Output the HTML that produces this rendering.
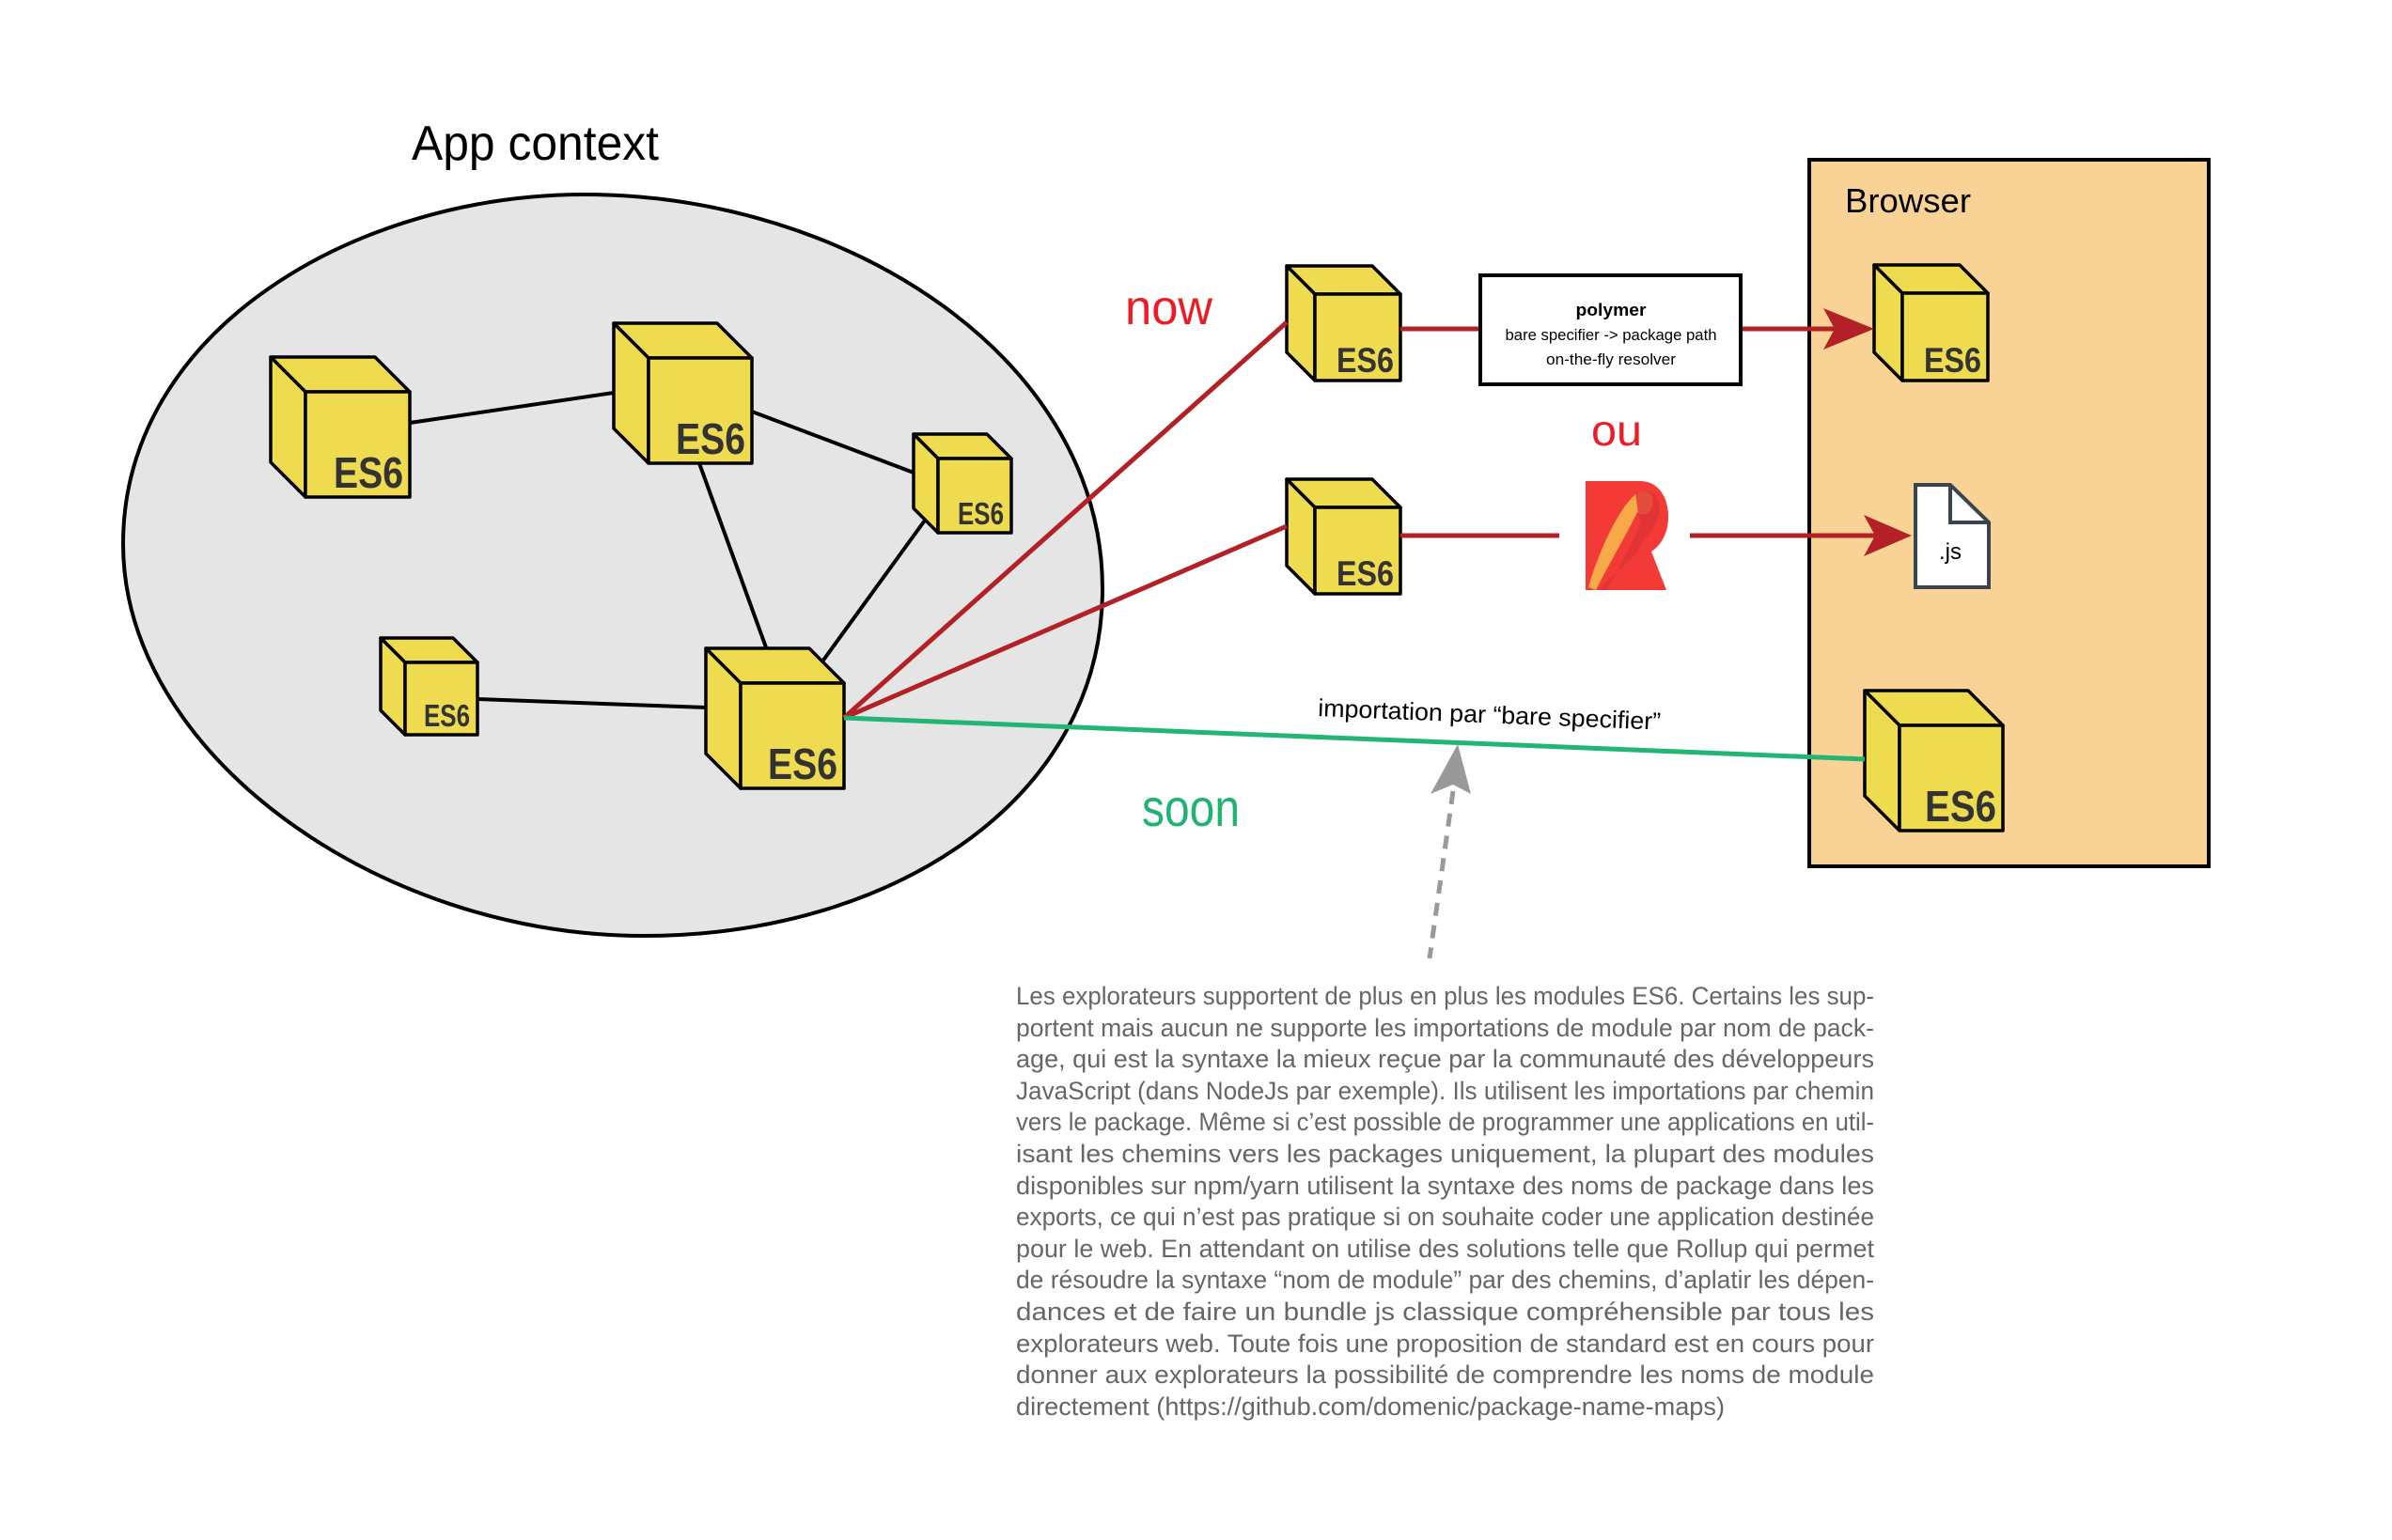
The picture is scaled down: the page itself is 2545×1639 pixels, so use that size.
<!DOCTYPE html>
<html><head><meta charset="utf-8"><style>
html,body{margin:0;padding:0;background:#fff;}
svg{display:block;}
text{font-family:"Liberation Sans",sans-serif;}
</style></head><body>
<svg width="2545" height="1639" viewBox="0 0 2545 1639" xmlns="http://www.w3.org/2000/svg">
<rect width="2545" height="1639" fill="#fff"/>
<text x="438" y="170" font-size="52" textLength="263" lengthAdjust="spacingAndGlyphs" fill="#000">App context</text>
<path d="M131,579 C131,350 380,207 622,207 C900,207 1173,380 1173,627 C1173,850 950,996 685,996 C400,996 131,800 131,579 Z" fill="#e5e5e5" stroke="#000" stroke-width="4"/>
<g stroke="#000" stroke-width="4">
<line x1="436" y1="450" x2="653" y2="418"/>
<line x1="800" y1="438" x2="972" y2="503"/>
<line x1="744" y1="493" x2="815" y2="689"/>
<line x1="986" y1="551" x2="875" y2="704"/>
<line x1="508" y1="744" x2="751" y2="753"/>
</g>
<rect x="1925" y="170" width="425" height="752" fill="#f9d396" stroke="#000" stroke-width="4"/>
<text x="1963" y="226" font-size="36" textLength="134" lengthAdjust="spacingAndGlyphs" fill="#000">Browser</text>
<g stroke="#000" stroke-width="3.5" stroke-linejoin="round" fill="#efdb50">
<path d="M288,380 L399,380 L436,417 L325,417 Z"/><path d="M288,380 L325,417 L325,529 L288,492 Z"/><rect x="325" y="417" width="111" height="112"/>
<path d="M653,344 L763,344 L800,381 L690,381 Z"/><path d="M653,344 L690,381 L690,493 L653,456 Z"/><rect x="690" y="381" width="110" height="112"/>
<path d="M972,462 L1050,462 L1076,488 L998,488 Z"/><path d="M972,462 L998,488 L998,567 L972,541 Z"/><rect x="998" y="488" width="78" height="79"/>
<path d="M405,679 L482,679 L508,705 L431,705 Z"/><path d="M405,679 L431,705 L431,782 L405,756 Z"/><rect x="431" y="705" width="77" height="77"/>
<path d="M751,690 L861,690 L898,727 L788,727 Z"/><path d="M751,690 L788,727 L788,839 L751,802 Z"/><rect x="788" y="727" width="110" height="112"/>
<path d="M1369,283 L1460,283 L1490,313 L1399,313 Z"/><path d="M1369,283 L1399,313 L1399,405 L1369,375 Z"/><rect x="1399" y="313" width="91" height="92"/>
<path d="M1369,510 L1460,510 L1490,540 L1399,540 Z"/><path d="M1369,510 L1399,540 L1399,632 L1369,602 Z"/><rect x="1399" y="540" width="91" height="92"/>
<path d="M1994,282 L2085,282 L2115,312 L2024,312 Z"/><path d="M1994,282 L2024,312 L2024,405 L1994,375 Z"/><rect x="2024" y="312" width="91" height="93"/>
<path d="M1984,735 L2094,735 L2131,772 L2021,772 Z"/><path d="M1984,735 L2021,772 L2021,884 L1984,847 Z"/><rect x="2021" y="772" width="110" height="112"/>
</g>
<g font-weight="bold" fill="#333" text-anchor="end">
<text x="429" y="519" font-size="46" textLength="74" lengthAdjust="spacingAndGlyphs">ES6</text>
<text x="793" y="483" font-size="46" textLength="74" lengthAdjust="spacingAndGlyphs">ES6</text>
<text x="1068" y="558" font-size="33" textLength="49" lengthAdjust="spacingAndGlyphs">ES6</text>
<text x="500" y="773" font-size="33" textLength="49" lengthAdjust="spacingAndGlyphs">ES6</text>
<text x="891" y="829" font-size="46" textLength="74" lengthAdjust="spacingAndGlyphs">ES6</text>
<text x="1483" y="396" font-size="37" textLength="61" lengthAdjust="spacingAndGlyphs">ES6</text>
<text x="1483" y="623" font-size="37" textLength="61" lengthAdjust="spacingAndGlyphs">ES6</text>
<text x="2108" y="396" font-size="37" textLength="61" lengthAdjust="spacingAndGlyphs">ES6</text>
<text x="2124" y="874" font-size="46" textLength="76" lengthAdjust="spacingAndGlyphs">ES6</text>
</g>
<g stroke="#b32025" stroke-width="5" fill="none">
<line x1="898" y1="764" x2="1369" y2="343"/>
<line x1="898" y1="764" x2="1369" y2="560"/>
<line x1="1490" y1="350" x2="1573" y2="350"/>
<line x1="1853" y1="350" x2="1955" y2="350"/>
<line x1="1490" y1="570" x2="1659" y2="570"/>
<line x1="1798" y1="570" x2="1995" y2="570"/>
</g>
<polygon points="1994,350 1940,328 1952,350 1940,372" fill="#b32025"/>
<polygon points="2034,570 1983,548 1995,570 1983,592" fill="#b32025"/>
<rect x="1575" y="293" width="277" height="116" fill="#fff" stroke="#000" stroke-width="4"/>
<text x="1714" y="336" font-size="18" font-weight="bold" text-anchor="middle" textLength="75" lengthAdjust="spacingAndGlyphs">polymer</text>
<text x="1714" y="362" font-size="17" text-anchor="middle" textLength="225" lengthAdjust="spacingAndGlyphs">bare specifier -&gt; package path</text>
<text x="1714" y="388" font-size="17" text-anchor="middle" textLength="138" lengthAdjust="spacingAndGlyphs">on-the-fly resolver</text>
<text x="1693" y="474" font-size="46" fill="#ed1c24" textLength="54" lengthAdjust="spacingAndGlyphs">ou</text>
<text x="1197" y="345" font-size="52" fill="#ed1c24" textLength="93" lengthAdjust="spacingAndGlyphs">now</text>
<path d="M1687,512 L1745,512 C1765,512 1775,530 1775,550 C1775,570 1765,582 1757,587 L1773,628 L1687,628 Z" fill="#f33a36"/>
<path d="M1690,625 C1700,590 1720,545 1738,528 C1748,518 1762,522 1758,540 C1752,550 1745,548 1742,545 C1730,570 1712,600 1698,628 Z" fill="#f8a948"/>
<path d="M1740,525 C1760,515 1772,535 1762,555 C1755,570 1745,580 1740,590 L1700,628 L1710,628 C1725,600 1740,570 1745,560 Z" fill="#dd3337" opacity="0.8"/>
<path d="M2038,516 L2075,516 L2116,556 L2116,625 L2038,625 Z" fill="#fff" stroke="#3a4450" stroke-width="4"/>
<path d="M2075,516 L2075,556 L2116,556" fill="none" stroke="#3a4450" stroke-width="4"/>
<text x="2075" y="595" font-size="24" text-anchor="middle" fill="#000">.js</text>
<line x1="898" y1="764" x2="1984" y2="808" stroke="#22b574" stroke-width="5"/>
<text x="1402" y="762" font-size="26" textLength="365" lengthAdjust="spacingAndGlyphs" transform="rotate(2.3 1402 762)" fill="#000">importation par “bare specifier”</text>
<text x="1215" y="879" font-size="56" fill="#1fb371" textLength="104" lengthAdjust="spacingAndGlyphs">soon</text>
<line x1="1546" y1="842" x2="1521" y2="1020" stroke="#999" stroke-width="5" stroke-dasharray="14,10"/>
<polygon points="1551,792 1522,845 1546,835 1565,845" fill="#999"/>
<g font-size="27" fill="#666">
<text x="1081" y="1069" textLength="913" lengthAdjust="spacingAndGlyphs">Les explorateurs supportent de plus en plus les modules ES6. Certains les sup-</text>
<text x="1081" y="1103" textLength="913" lengthAdjust="spacingAndGlyphs">portent mais aucun ne supporte les importations de module par nom de pack-</text>
<text x="1081" y="1136" textLength="913" lengthAdjust="spacingAndGlyphs">age, qui est la syntaxe la mieux reçue par la communauté des développeurs</text>
<text x="1081" y="1170" textLength="913" lengthAdjust="spacingAndGlyphs">JavaScript (dans NodeJs par exemple). Ils utilisent les importations par chemin</text>
<text x="1081" y="1203" textLength="913" lengthAdjust="spacingAndGlyphs">vers le package. Même si c’est possible de programmer une applications en util-</text>
<text x="1081" y="1237" textLength="913" lengthAdjust="spacingAndGlyphs">isant les chemins vers les packages uniquement, la plupart des modules</text>
<text x="1081" y="1271" textLength="913" lengthAdjust="spacingAndGlyphs">disponibles sur npm/yarn utilisent la syntaxe des noms de package dans les</text>
<text x="1081" y="1304" textLength="913" lengthAdjust="spacingAndGlyphs">exports, ce qui n’est pas pratique si on souhaite coder une application destinée</text>
<text x="1081" y="1338" textLength="913" lengthAdjust="spacingAndGlyphs">pour le web. En attendant on utilise des solutions telle que Rollup qui permet</text>
<text x="1081" y="1371" textLength="913" lengthAdjust="spacingAndGlyphs">de résoudre la syntaxe “nom de module” par des chemins, d’aplatir les dépen-</text>
<text x="1081" y="1405" textLength="913" lengthAdjust="spacingAndGlyphs">dances et de faire un bundle js classique compréhensible par tous les</text>
<text x="1081" y="1439" textLength="913" lengthAdjust="spacingAndGlyphs">explorateurs web. Toute fois une proposition de standard est en cours pour</text>
<text x="1081" y="1472" textLength="913" lengthAdjust="spacingAndGlyphs">donner aux explorateurs la possibilité de comprendre les noms de module</text>
<text x="1081" y="1506" textLength="754" lengthAdjust="spacingAndGlyphs">directement (https://github.com/domenic/package-name-maps)</text>
</g>
</svg>
</body></html>
